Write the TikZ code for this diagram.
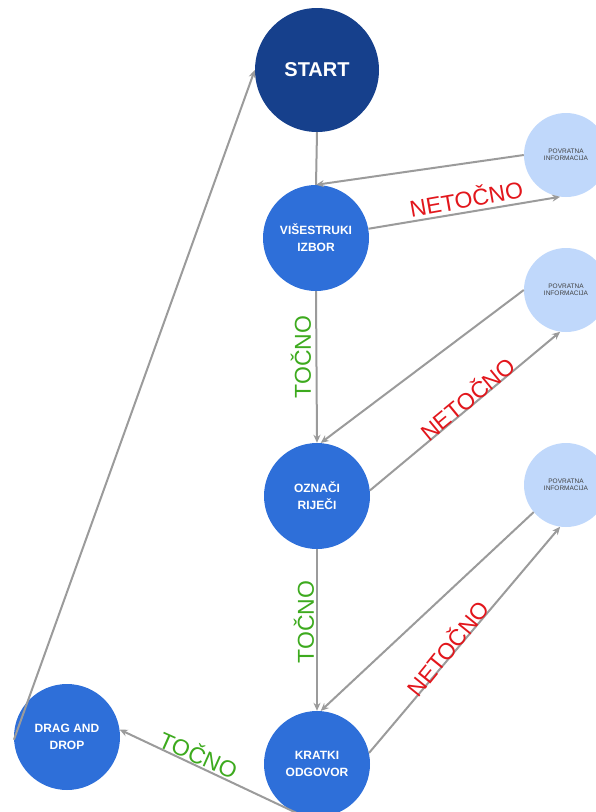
\documentclass[tikz,border=0pt]{standalone}
\usepackage{fontspec}
\setmainfont{Liberation Sans}
\usetikzlibrary{arrows.meta}
\definecolor{startblue}{HTML}{16408C}
\definecolor{nodeblue}{HTML}{2E6FD9}
\definecolor{fbblue}{HTML}{C0D8FB}
\definecolor{linegray}{HTML}{9B9B9B}
\definecolor{okgreen}{HTML}{3DAA1E}
\definecolor{badred}{HTML}{E2161C}
\tikzset{
  startnode/.style={circle, fill=startblue, minimum size=124pt, inner sep=0pt,
    text=white, font=\fontsize{20}{22}\selectfont\bfseries, align=center},
  tasknode/.style={circle, fill=nodeblue, minimum size=106pt, inner sep=0pt,
    text=white, font=\fontsize{12}{17}\selectfont\bfseries, align=center},
  fbnode/.style={circle, fill=fbblue, minimum size=84pt, inner sep=0pt,
    text=black!75, font=\fontsize{6.5}{7.5}\selectfont, align=center},
  arr/.style={draw=linegray, line width=2pt, -{Stealth[length=8pt,width=7pt]}},
  plain/.style={draw=linegray, line width=2pt},
  oklabel/.style={text=okgreen, font=\fontsize{23}{25}\selectfont, inner sep=0pt},
  badlabel/.style={text=badred, font=\fontsize{23}{25}\selectfont, inner sep=0pt}
}
\begin{document}
\begin{tikzpicture}[x=1pt, y=-1pt]
\useasboundingbox (0,0) rectangle (595,812);
% nodes
\node[startnode] (s) at (317,70) {START};
\node[tasknode] (v) at (316,238) {VIŠESTRUKI\\IZBOR};
\node[tasknode] (o) at (317,496) {OZNAČI\\RIJEČI};
\node[tasknode] (k) at (317,764) {KRATKI\\ODGOVOR};
\node[tasknode] (d) at (67,737) {DRAG AND\\DROP};
\node[fbnode] (f1) at (566,155) {POVRATNA\\INFORMACIJA};
\node[fbnode] (f2) at (566,290) {POVRATNA\\INFORMACIJA};
\node[fbnode] (f3) at (566,485) {POVRATNA\\INFORMACIJA};
% connectors
\draw[plain] (s.south) -- (v.north);
\draw[arr] (f1.180) -- (v.north);
\draw[arr] (v.10) -- (f1.262);
\draw[arr] (v.south) -- (o.north);
\draw[arr] (f2.180) -- (o.86);
\draw[arr] (o.6) -- (f2.262);
\draw[arr] (o.south) -- (k.north);
\draw[arr] (f3.220) -- (k.86);
\draw[arr] (k.12) -- (f3.262);
\draw[arr] (k.250) -- (d.8);
\draw[arr] (d.183) -- (s.180);
% labels
\node[badlabel, rotate=10] (l1) at (466,198) {NETOČNO};
\node[oklabel, rotate=90] (l2) at (301,357) {TOČNO};
\node[badlabel, rotate=39.5] (l3) at (467,398) {NETOČNO};
\node[oklabel, rotate=90] (l4) at (304,622) {TOČNO};
\node[badlabel, rotate=51] (l5) at (447,648) {NETOČNO};
\node[oklabel, rotate=-24] (l6) at (199,754) {TOČNO};
\end{tikzpicture}
\end{document}
